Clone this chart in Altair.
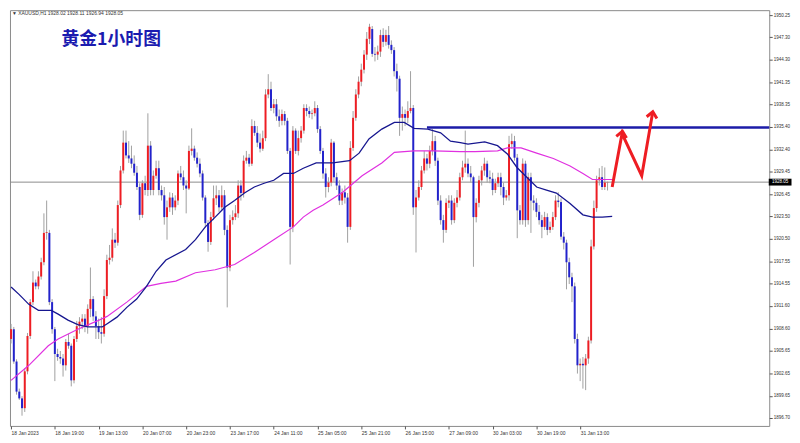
import altair as alt
import pandas as pd

# ---------------- data ----------------
time_labels = ["18 Jan 2023", "18 Jan 19:00", "19 Jan 13:00", "20 Jan 07:00", "20 Jan 23:00",
               "23 Jan 17:00", "24 Jan 11:00", "25 Jan 05:00", "25 Jan 21:00", "26 Jan 15:00",
               "27 Jan 09:00", "30 Jan 03:00", "30 Jan 19:00", "31 Jan 13:00"]
time_label_bars = [0, 16, 32, 48, 64, 80, 96, 112, 128, 144, 160, 176, 192, 208]

opens = [
    1907.2, 1908.5, 1904.2, 1900.2, 1899.3, 1898.0, 1902.9, 1907.6, 1912.1, 1914.7,
    1914.2, 1915.5, 1917.4, 1921.3, 1921.3, 1912.1, 1908.5, 1905.2, 1904.8, 1904.6,
    1903.7, 1906.8, 1906.3, 1901.7, 1907.2, 1908.9, 1909.5, 1909.9, 1908.9, 1911.2,
    1912.5, 1910.2, 1908.9, 1908.1, 1907.9, 1912.9, 1917.7, 1918.0, 1920.4, 1920.0,
    1925.0, 1929.6, 1933.3, 1931.6, 1931.2, 1930.5, 1929.3, 1927.4, 1923.7, 1927.9,
    1927.0, 1932.9, 1927.0, 1928.9, 1929.9, 1927.0, 1926.3, 1923.4, 1924.7, 1926.0,
    1924.7, 1925.6, 1929.2, 1928.7, 1927.6, 1927.2, 1932.2, 1932.5, 1931.3, 1930.5,
    1929.2, 1926.0, 1922.6, 1920.1, 1923.4, 1925.9, 1926.3, 1924.7, 1926.3, 1921.7,
    1916.7, 1923.0, 1923.4, 1923.9, 1927.6, 1926.6, 1930.9, 1931.3, 1930.5, 1935.5,
    1934.6, 1933.3, 1932.5, 1933.9, 1939.7, 1940.4, 1937.9, 1938.4, 1936.8, 1936.2,
    1937.1, 1936.2, 1932.2, 1922.1, 1934.9, 1932.2, 1933.9, 1934.9, 1937.9, 1937.5,
    1937.1, 1937.2, 1937.9, 1935.1, 1932.2, 1929.2, 1927.4, 1928.0, 1933.3, 1928.7,
    1927.6, 1925.6, 1926.7, 1926.0, 1922.1, 1932.6, 1936.6, 1939.7, 1941.4, 1943.0,
    1945.0, 1947.1, 1948.4, 1945.1, 1945.0, 1945.4, 1947.6, 1946.7, 1947.6, 1946.3,
    1945.6, 1942.8, 1941.8, 1936.6, 1937.1, 1936.6, 1937.5, 1937.9, 1924.7, 1926.0,
    1927.4, 1929.6, 1931.2, 1930.5, 1932.2, 1933.5, 1930.9, 1925.6, 1923.0, 1921.7,
    1925.3, 1925.6, 1923.0, 1925.3, 1926.0, 1928.7, 1930.0, 1930.5, 1929.2, 1928.7,
    1923.4, 1925.3, 1928.3, 1929.6, 1930.5, 1928.7, 1928.5, 1927.0, 1927.9, 1928.7,
    1927.4, 1926.0, 1926.3, 1933.1, 1933.5, 1931.3, 1924.3, 1923.0, 1930.5, 1923.0,
    1928.7, 1925.6, 1925.3, 1924.1, 1923.0, 1922.1, 1923.4, 1921.7, 1922.1, 1923.4,
    1925.6, 1925.4, 1920.8, 1920.0, 1917.4, 1915.4, 1914.2, 1907.2, 1903.7, 1903.9,
    1903.7, 1904.6, 1907.0, 1919.5, 1924.6, 1928.3, 1928.7, 1927.4, 1928.02,
]
highs = [
    1909.2, 1908.8, 1904.5, 1900.6, 1899.6, 1903.3, 1908.0, 1912.5, 1916.2, 1915.1,
    1916.2, 1918.0, 1923.9, 1925.6, 1921.7, 1912.5, 1908.8, 1905.9, 1905.6, 1905.2,
    1907.2, 1907.9, 1906.6, 1907.6, 1909.6, 1910.1, 1910.5, 1910.5, 1911.8, 1916.7,
    1912.9, 1910.9, 1909.9, 1910.1, 1913.8, 1918.4, 1919.7, 1921.9, 1921.3, 1925.6,
    1930.2, 1934.9, 1934.9, 1933.5, 1932.9, 1931.6, 1930.2, 1927.9, 1928.3, 1928.9,
    1937.2, 1933.5, 1929.6, 1930.9, 1930.9, 1927.6, 1927.4, 1925.6, 1926.7, 1926.6,
    1926.3, 1929.6, 1930.2, 1929.6, 1928.3, 1932.9, 1935.2, 1932.9, 1932.0, 1931.2,
    1929.6, 1926.3, 1923.0, 1924.1, 1927.6, 1927.6, 1927.0, 1927.6, 1927.0, 1922.3,
    1923.7, 1924.3, 1925.0, 1928.3, 1928.3, 1931.6, 1932.2, 1931.8, 1936.4, 1936.2,
    1935.5, 1934.5, 1934.9, 1940.4, 1942.4, 1941.4, 1939.1, 1939.1, 1937.7, 1937.7,
    1937.5, 1936.6, 1932.6, 1935.5, 1935.2, 1934.9, 1935.5, 1938.4, 1938.4, 1938.1,
    1937.7, 1938.8, 1938.3, 1935.5, 1932.6, 1929.9, 1928.7, 1933.8, 1933.5, 1929.3,
    1928.3, 1927.2, 1927.6, 1926.6, 1933.5, 1937.5, 1940.4, 1942.1, 1943.8, 1945.6,
    1948.0, 1949.1, 1948.8, 1946.0, 1946.2, 1948.3, 1948.5, 1948.3, 1948.8, 1946.9,
    1946.0, 1943.8, 1942.2, 1938.1, 1937.7, 1938.8, 1942.8, 1938.3, 1927.0, 1928.3,
    1930.2, 1932.2, 1931.8, 1932.9, 1935.1, 1934.2, 1931.3, 1926.3, 1923.7, 1925.9,
    1926.3, 1926.3, 1925.9, 1927.0, 1929.3, 1930.9, 1934.9, 1931.2, 1930.2, 1928.9,
    1925.9, 1928.9, 1930.2, 1931.3, 1930.9, 1929.6, 1929.3, 1928.5, 1929.3, 1929.3,
    1928.0, 1927.0, 1934.2, 1934.5, 1934.2, 1931.8, 1925.0, 1931.2, 1930.9, 1929.3,
    1929.3, 1926.3, 1925.9, 1925.0, 1923.7, 1924.1, 1923.9, 1922.8, 1924.1, 1926.3,
    1926.7, 1925.9, 1921.4, 1920.4, 1918.0, 1916.0, 1914.7, 1907.9, 1904.6, 1904.8,
    1905.2, 1907.5, 1920.4, 1925.6, 1928.9, 1929.9, 1930.2, 1930.0, 1928.11,
]
lows = [
    1906.6, 1903.9, 1899.8, 1899.1, 1897.0, 1897.5, 1902.5, 1907.2, 1911.7, 1913.8,
    1913.8, 1915.1, 1917.0, 1920.4, 1911.7, 1907.9, 1901.6, 1904.3, 1903.9, 1902.2,
    1903.0, 1905.9, 1900.9, 1901.3, 1906.8, 1907.9, 1908.5, 1908.1, 1907.9, 1910.1,
    1909.6, 1907.2, 1907.2, 1906.6, 1907.5, 1912.5, 1917.1, 1917.5, 1919.3, 1919.6,
    1924.6, 1929.2, 1931.2, 1930.6, 1929.9, 1928.9, 1927.0, 1923.0, 1923.3, 1926.3,
    1926.2, 1926.3, 1926.3, 1928.5, 1926.3, 1925.6, 1922.4, 1920.4, 1924.1, 1923.7,
    1924.3, 1925.0, 1928.3, 1927.0, 1923.9, 1927.0, 1931.6, 1930.9, 1930.0, 1928.7,
    1925.6, 1922.0, 1918.8, 1919.7, 1923.0, 1925.0, 1924.1, 1924.3, 1921.0, 1911.4,
    1916.2, 1922.4, 1923.0, 1923.3, 1925.6, 1926.0, 1930.5, 1930.1, 1930.2, 1934.2,
    1932.7, 1932.0, 1932.2, 1933.5, 1939.2, 1937.5, 1937.2, 1936.2, 1935.4, 1935.6,
    1935.6, 1931.8, 1917.1, 1921.4, 1931.8, 1931.6, 1933.3, 1934.5, 1936.8, 1936.6,
    1936.4, 1936.8, 1934.6, 1931.8, 1928.5, 1926.0, 1926.7, 1927.5, 1928.0, 1927.0,
    1925.0, 1925.0, 1925.2, 1920.0, 1921.7, 1932.2, 1936.2, 1939.2, 1940.8, 1942.5,
    1944.3, 1946.4, 1944.7, 1944.1, 1944.3, 1944.7, 1946.0, 1946.2, 1945.8, 1945.1,
    1942.1, 1940.1, 1934.2, 1934.9, 1935.5, 1935.9, 1937.2, 1923.7, 1918.7, 1925.6,
    1927.0, 1929.2, 1929.6, 1929.9, 1931.6, 1930.2, 1925.0, 1922.4, 1920.0, 1921.3,
    1924.6, 1922.4, 1922.6, 1924.7, 1925.6, 1928.3, 1929.3, 1928.7, 1928.0, 1916.8,
    1922.7, 1924.7, 1927.6, 1928.9, 1928.0, 1927.9, 1926.3, 1926.6, 1927.4, 1926.3,
    1925.0, 1925.6, 1925.6, 1932.5, 1930.9, 1920.6, 1922.4, 1922.4, 1922.1, 1922.4,
    1921.3, 1924.3, 1923.4, 1922.4, 1920.6, 1921.7, 1921.0, 1921.3, 1921.7, 1923.0,
    1924.7, 1920.4, 1919.1, 1913.8, 1914.5, 1912.1, 1906.6, 1902.6, 1901.6, 1900.6,
    1900.4, 1903.9, 1906.6, 1919.1, 1924.1, 1927.6, 1927.0, 1927.0, 1926.94,
]
closes = [
    1908.5, 1904.2, 1900.2, 1899.3, 1898.0, 1902.9, 1907.6, 1912.1, 1914.7, 1914.2,
    1915.5, 1917.4, 1921.3, 1921.4, 1912.1, 1908.5, 1905.2, 1904.8, 1904.6, 1903.7,
    1906.8, 1906.3, 1901.7, 1907.2, 1908.9, 1909.5, 1909.9, 1908.9, 1911.2, 1912.5,
    1910.2, 1908.9, 1908.1, 1907.9, 1912.9, 1917.7, 1918.0, 1920.4, 1920.0, 1925.0,
    1929.6, 1933.3, 1931.6, 1931.2, 1930.5, 1929.3, 1927.4, 1923.7, 1927.9, 1927.0,
    1932.9, 1927.0, 1928.9, 1929.9, 1927.0, 1926.3, 1923.4, 1924.7, 1926.0, 1924.7,
    1925.6, 1929.2, 1928.7, 1927.6, 1927.2, 1932.2, 1932.5, 1931.3, 1930.5, 1929.2,
    1926.0, 1922.6, 1920.1, 1923.4, 1925.9, 1926.3, 1924.7, 1926.3, 1921.7, 1916.7,
    1923.0, 1923.4, 1923.9, 1927.6, 1926.6, 1930.9, 1931.3, 1930.5, 1935.5, 1934.6,
    1933.3, 1932.5, 1933.9, 1939.7, 1940.4, 1937.9, 1938.4, 1936.8, 1936.2, 1937.1,
    1936.2, 1932.2, 1922.1, 1934.9, 1932.2, 1933.9, 1934.9, 1937.9, 1937.5, 1937.1,
    1937.2, 1937.9, 1935.1, 1932.2, 1929.2, 1927.4, 1928.0, 1933.3, 1928.7, 1927.6,
    1925.6, 1926.7, 1926.0, 1922.1, 1932.6, 1936.6, 1939.7, 1941.4, 1943.0, 1945.0,
    1947.1, 1948.7, 1945.1, 1945.0, 1945.4, 1947.6, 1946.7, 1947.6, 1946.3, 1945.6,
    1942.8, 1941.8, 1936.6, 1937.1, 1936.6, 1937.5, 1937.9, 1924.7, 1926.0, 1927.4,
    1929.6, 1931.2, 1930.5, 1932.2, 1933.5, 1930.9, 1925.6, 1923.0, 1921.7, 1925.3,
    1925.6, 1923.0, 1925.3, 1926.0, 1928.7, 1930.0, 1930.5, 1929.2, 1928.7, 1923.4,
    1925.3, 1928.3, 1929.6, 1930.5, 1928.7, 1928.5, 1927.0, 1927.9, 1928.7, 1927.4,
    1926.0, 1926.3, 1933.1, 1933.5, 1931.3, 1924.3, 1923.0, 1930.5, 1923.0, 1928.7,
    1925.6, 1925.3, 1924.1, 1923.0, 1922.1, 1923.4, 1921.7, 1922.1, 1923.4, 1925.6,
    1925.4, 1920.8, 1920.0, 1917.4, 1915.4, 1914.2, 1907.2, 1903.7, 1903.9, 1903.7,
    1904.6, 1907.0, 1919.5, 1924.6, 1928.3, 1928.7, 1927.4, 1928.0, 1928.05,
]

# moving averages (bar position, price)
blue_ma_bar = [0, 3, 6.5, 10, 14.7, 17.2, 20.8, 24.4, 28, 33.3, 35, 38.7, 42.3, 45.9, 49.5,
               53, 56.6, 63.8, 67.4, 71, 74.6, 78.1, 81.7, 85.3, 88.9, 92.5, 96, 99.6, 103.2,
               106.8, 111.5, 117.6, 123.7, 127.2, 130.8, 135.5, 140.1, 143.7, 147.3, 152.3,
               157, 160.6, 164.2, 167, 173.1, 177.8, 181.4, 184.9, 188.5, 192.1, 195.7,
               199.3, 204.3, 209, 212.5, 216.1, 219.7]
blue_ma = [1914.1, 1913.1, 1911.8, 1911.0, 1911.0, 1910.5, 1909.7, 1909.1, 1908.8, 1908.8,
           1909.2, 1910.1, 1911.4, 1912.5, 1914.2, 1916.2, 1917.7, 1919.1, 1920.4, 1922.1,
           1923.4, 1924.7, 1925.6, 1926.6, 1927.4, 1927.9, 1928.3, 1929.2, 1929.2, 1929.9,
           1930.6, 1930.6, 1930.9, 1931.9, 1933.8, 1935.1, 1936.0, 1936.0, 1935.2, 1935.1,
           1934.6, 1933.5, 1933.3, 1933.1, 1933.4, 1932.9, 1931.8, 1930.0, 1928.7, 1927.4,
           1927.0, 1926.6, 1925.2, 1923.7, 1923.4, 1923.4, 1923.5]
magenta_ma_bar = [0, 6.5, 13.6, 17.2, 24.4, 31.5, 35.1, 42.3, 49.5, 54.8, 60.2, 67.4, 74.6,
                  81.7, 88.9, 96, 103.2, 106.8, 110.4, 114, 121.2, 128.3, 135.5, 140.1,
                  147.3, 154.5, 164.2, 169.5, 177.8, 181.4, 186.4, 192.1, 198.2, 204.3,
                  209, 212.5, 216.1, 219.7]
magenta_ma = [1901.7, 1903.7, 1906.3, 1907.2, 1908.5, 1909.6, 1910.2, 1912.1, 1914.2, 1914.6,
              1914.9, 1916.0, 1916.4, 1917.1, 1918.7, 1920.4, 1922.1, 1923.4, 1924.3, 1925.0,
              1926.7, 1928.9, 1930.6, 1932.0, 1932.2, 1932.2, 1932.1, 1932.1, 1932.2, 1932.6,
              1932.6, 1931.9, 1931.2, 1930.2, 1929.2, 1928.4, 1928.4, 1928.4]

resistance_price = 1935.3
resistance_start_bar = 152
last_price = 1928.05
arrow_bar = [219.7, 223.3, 230.5, 234.4]
arrow_price = [1927.4, 1934.5, 1928.9, 1937.1]
arrowhead_bar = [223.3, 234.4]
arrowhead_price = [1934.5, 1937.1]

y_ticks = [1896.70, 1899.65, 1902.65, 1905.65, 1908.60, 1911.60, 1914.55, 1917.55, 1920.50,
           1923.50, 1926.45, 1929.45, 1932.40, 1935.40, 1938.35, 1941.35, 1944.30, 1947.30,
           1950.25]
title_text = "黄金1小时图"
header_text = "XAUUSD,H1  1928.02 1928.11 1926.94 1928.05"

# ---------------- styling ----------------
W, H = 767, 420
X_DOM = [-0.4, 277.1]
Y_DOM = [1895.64, 1950.91]
RED = "#ee1d23"
BLUE = "#2222cc"
WICK = "#a0a0a0"
NAVY = "#16168f"
MAGENTA = "#e030e0"

xscale = alt.Scale(domain=X_DOM, nice=False, zero=False, padding=0)
yscale = alt.Scale(domain=Y_DOM, nice=False, zero=False, padding=0)
label_arr = "[" + ",".join("'%s'" % t for t in time_labels) + "]"
xaxis = alt.Axis(values=time_label_bars, labelExpr=label_arr + "[round(datum.value / 16)]",
                 labelAlign="left", labelPadding=2, tickSize=3, labelFontSize=5,
                 labelOverlap=False, labelFlush=False, grid=False, domain=False,
                 labelColor="#333333", tickColor="#555555")
yaxis = alt.Axis(values=y_ticks, format=".2f", orient="right", labelFontSize=4.6,
                 tickSize=3, labelPadding=1, labelOverlap=False, grid=False, domain=False,
                 labelColor="#333333", tickColor="#555555")


def X(f):
    return alt.X(f"{f}:Q", scale=xscale, axis=xaxis, title="")


def Y(f):
    return alt.Y(f"{f}:Q", scale=yscale, axis=yaxis, title="")


candles = pd.DataFrame({"bar": list(range(len(opens))), "open": opens, "high": highs,
                        "low": lows, "close": closes})
blue_df = pd.DataFrame({"bar": blue_ma_bar, "ma": blue_ma})
mag_df = pd.DataFrame({"bar": magenta_ma_bar, "ma": magenta_ma})
res_df = pd.DataFrame({"x1": [resistance_start_bar], "x2": [X_DOM[1]], "price": [resistance_price]})
last_df = pd.DataFrame({"price": [last_price], "label": [f"{last_price:.2f}"]})
arrow_df = pd.DataFrame({"bar": arrow_bar, "price": arrow_price, "seq": list(range(len(arrow_bar)))})
head_df = pd.DataFrame({"bar": arrowhead_bar, "price": arrowhead_price})

last_line = alt.Chart(last_df).mark_rule(color="#8c8c8c", strokeWidth=1).encode(y=Y("price"))

wicks = alt.Chart(candles).mark_rule(color=WICK, strokeWidth=1).encode(
    x=X("bar"), y=Y("low"), y2="high")
bodies = alt.Chart(candles).mark_bar(size=2).encode(
    x=X("bar"), y=Y("open"), y2="close",
    color=alt.condition("datum.close >= datum.open", alt.value(RED), alt.value(BLUE)))

blue_line = alt.Chart(blue_df).mark_line(color=NAVY, strokeWidth=1.3).encode(x=X("bar"), y=Y("ma"))
mag_line = alt.Chart(mag_df).mark_line(color=MAGENTA, strokeWidth=1.2).encode(x=X("bar"), y=Y("ma"))

res_line = alt.Chart(res_df).mark_rule(color="#1c1ca8", strokeWidth=2.5).encode(
    x=X("x1"), x2="x2", y=Y("price"))

arrow_line = alt.Chart(arrow_df).mark_line(color=RED, strokeWidth=3, strokeJoin="miter").encode(
    x=X("bar"), y=Y("price"), order="seq:Q")
arrow_heads = alt.Chart(head_df).mark_point(
    shape="M-1,0.7L0,-0.45L1,0.7", filled=False, color=RED, strokeWidth=3, size=110, angle=10,
    opacity=1, strokeJoin="miter").encode(x=X("bar"), y=Y("price"))

price_box = alt.Chart(last_df).mark_point(
    shape="M-1,-0.3L1,-0.3L1,0.3L-1,0.3Z", filled=True, color="#000000", size=529,
    opacity=1).encode(x=alt.value(W + 11), y=Y("price"))
price_text = alt.Chart(last_df).mark_text(color="white", fontSize=4.6, align="center",
                                          baseline="middle").encode(
    x=alt.value(W + 11), y=Y("price"), text="label:N")

title = alt.Chart(pd.DataFrame({"t": [title_text]})).mark_text(
    align="left", baseline="middle", fontSize=18, fontWeight="bold",
    font="Noto Sans CJK SC", color="#1b1bb0").encode(
    x=alt.value(52), y=alt.value(30), text="t:N")
header = alt.Chart(pd.DataFrame({"t": ["▼  " + header_text]})).mark_text(
    align="left", baseline="top", fontSize=5, color="#333333").encode(
    x=alt.value(2), y=alt.value(1), text="t:N")

chart = alt.layer(
    last_line, wicks, bodies, mag_line, blue_line, res_line, arrow_line, arrow_heads,
    price_box, price_text, title, header
).properties(
    width=W, height=H, padding={"left": 0, "top": 0, "right": 0, "bottom": 0},
    background="white"
).configure_view(
    stroke="#8a8a8a", strokeWidth=1
).configure_axis(
    labelFont="Liberation Sans"
)

chart.save("out.html", embed_options={"renderer": "svg", "actions": False})
